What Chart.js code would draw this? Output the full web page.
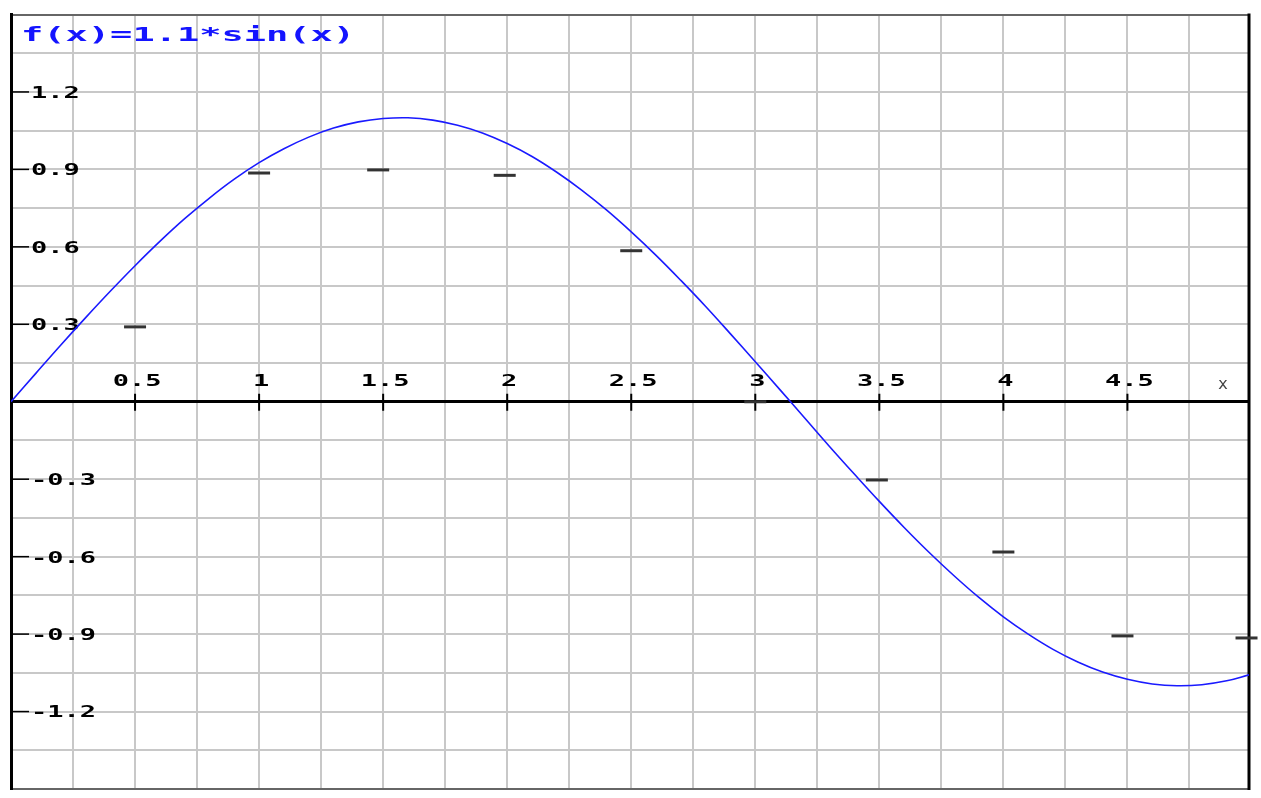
<!DOCTYPE html>
<html>
<head>
<meta charset="utf-8">
<title>f(x)=1.1*sin(x)</title>
<script src="https://cdn.jsdelivr.net/npm/chart.js@4.4.1/dist/chart.umd.min.js"></script>
<style>
  html, body { margin: 0; padding: 0; background: #fff; }
  #wrap { width: 1261px; height: 798px; }
</style>
</head>
<body>
<div id="wrap"><canvas id="myChart"></canvas></div>
<script>
// Labelled ticks on both axes
const xLabels = [0.5, 1, 1.5, 2, 2.5, 3, 3.5, 4, 4.5];
const yLabels = [-1.2, -0.9, -0.6, -0.3, 0.3, 0.6, 0.9, 1.2];

// Blue curve
const curveX = [0, 0.1, 0.2, 0.3, 0.4, 0.5, 0.6, 0.7, 0.8, 0.9,
  1, 1.1, 1.2, 1.3, 1.4, 1.5, 1.6, 1.7, 1.8, 1.9,
  2, 2.1, 2.2, 2.3, 2.4, 2.5, 2.6, 2.7, 2.8, 2.9,
  3, 3.1, 3.2, 3.3, 3.4, 3.5, 3.6, 3.7, 3.8, 3.9,
  4, 4.1, 4.2, 4.3, 4.4, 4.5, 4.6, 4.7, 4.8, 4.9, 4.99];
const curveY = [0, 0.11, 0.219, 0.325, 0.428, 0.527, 0.621, 0.709, 0.789, 0.862,
  0.926, 0.98, 1.025, 1.06, 1.084, 1.097, 1.1, 1.091, 1.071, 1.041,
  1.0, 0.95, 0.889, 0.82, 0.743, 0.658, 0.567, 0.47, 0.369, 0.263,
  0.155, 0.046, -0.064, -0.174, -0.281, -0.386, -0.487, -0.583, -0.673, -0.757,
  -0.833, -0.9, -0.959, -1.008, -1.047, -1.075, -1.093, -1.1, -1.096, -1.081, -1.058];

// Short black marks
const markX = [0.5, 1, 1.48, 1.99, 2.5, 3, 3.49, 4, 4.48, 4.98];
const markY = [0.29, 0.886, 0.898, 0.877, 0.585, 0, -0.303, -0.582, -0.907, -0.915];

const titleText = 'f(x)=1.1*sin(x)';
const axisName = 'x';

const labelFont = 'bold 15px "DejaVu Sans Mono", monospace';

// pixel-font look: text drawn wide, as in the picture
const wideText = (ctx, text, px, py, align, stretch) => {
  ctx.save();
  ctx.translate(px, py);
  ctx.scale(stretch, 1);
  ctx.textAlign = align;
  ctx.fillText(text, 0, 0);
  ctx.restore();
};

const noSpace = (scale) => {
  scale.paddingLeft = 0;
  scale.paddingRight = 0;
  scale.paddingTop = 0;
  scale.paddingBottom = 0;
  if (scale.axis === 'y') scale.width = 0;
};

// tick marks, tick labels, right frame, axis name and the formula
const decorations = {
  id: 'decorations',
  beforeDatasetsDraw(chart) {
    const { ctx, chartArea, scales: { x, y } } = chart;
    const y0 = y.getPixelForValue(0);
    ctx.save();
    ctx.strokeStyle = '#000';
    ctx.lineWidth = 2;
    xLabels.forEach(v => {
      const px = x.getPixelForValue(v);
      ctx.beginPath();
      ctx.moveTo(px, y0 - 8);
      ctx.lineTo(px, y0 + 9);
      ctx.stroke();
    });
    ctx.lineWidth = 1.5;
    yLabels.forEach(v => {
      const py = y.getPixelForValue(v);
      ctx.beginPath();
      ctx.moveTo(chartArea.left, py);
      ctx.lineTo(chartArea.left + 18, py);
      ctx.stroke();
    });
    ctx.lineWidth = 3;
    ctx.beginPath();
    ctx.moveTo(chartArea.right, chartArea.top - 1);
    ctx.lineTo(chartArea.right, chartArea.bottom + 1);
    ctx.stroke();

    ctx.fillStyle = '#000';
    ctx.font = labelFont;
    ctx.textBaseline = 'middle';
    xLabels.forEach(v => wideText(ctx, String(v), x.getPixelForValue(v) + 2, y0 - 20, 'center', 1.8));
    yLabels.forEach(v => wideText(ctx, String(v), chartArea.left + 20, y.getPixelForValue(v) + 2, 'left', 1.8));

    ctx.fillStyle = '#444';
    ctx.font = '15px "DejaVu Sans Mono", monospace';
    wideText(ctx, axisName, chartArea.right - 26, y0 - 17, 'center', 1.1);

    ctx.fillStyle = '#1414ff';
    ctx.font = 'bold 20px "DejaVu Sans Mono", monospace';
    ctx.textBaseline = 'alphabetic';
    wideText(ctx, titleText, chartArea.left + 10, 41, 'left', 1.85);
    ctx.restore();
  }
};

const ctx = document.getElementById('myChart');
const myChart = new Chart(ctx, {
  type: 'scatter',
  data: {
    datasets: [
      {
        label: 'curve',
        type: 'line',
        data: curveX.map((v, i) => ({ x: v, y: curveY[i] })),
        borderColor: '#1a1aff',
        borderWidth: 1.6,
        pointRadius: 0,
        tension: 0.4,
        fill: false,
      },
      {
        label: 'marks',
        data: markX.map((v, i) => ({ x: v, y: markY[i] })),
        pointStyle: 'line',
        pointRadius: 11,
        pointBorderWidth: 3,
        pointBorderColor: '#333',
        pointBackgroundColor: '#333',
        clip: false,
      },
    ],
  },
  options: {
    responsive: true,
    maintainAspectRatio: false,
    animation: false,
    events: [],
    layout: { autoPadding: false, padding: { left: 11, right: 12, top: 14.5, bottom: 9 } },
    plugins: {
      legend: { display: false },
      title: { display: false },
      tooltip: { enabled: false },
    },
    scales: {
      x: {
        type: 'linear',
        position: { y: 0 },
        min: 0,
        max: 4.99,
        afterFit: noSpace,
        grid: { color: '#c8c8c8', lineWidth: 2, drawTicks: false, z: -1 },
        border: { display: true, color: '#000', width: 3 },
        ticks: { display: false, stepSize: 0.25, includeBounds: false, autoSkip: false },
      },
      y: {
        type: 'linear',
        position: 'left',
        min: -1.5,
        max: 1.5,
        afterFit: noSpace,
        grid: {
          color: (c) => (c.tick && Math.abs(Math.abs(c.tick.value) - 1.5) < 1e-6 ? '#666' : '#c8c8c8'),
          lineWidth: 2,
          drawTicks: false,
          z: -1,
        },
        border: { display: true, color: '#000', width: 3 },
        ticks: { display: false, stepSize: 0.15, autoSkip: false },
      },
    },
  },
  plugins: [decorations],
});
</script>
</body>
</html>
